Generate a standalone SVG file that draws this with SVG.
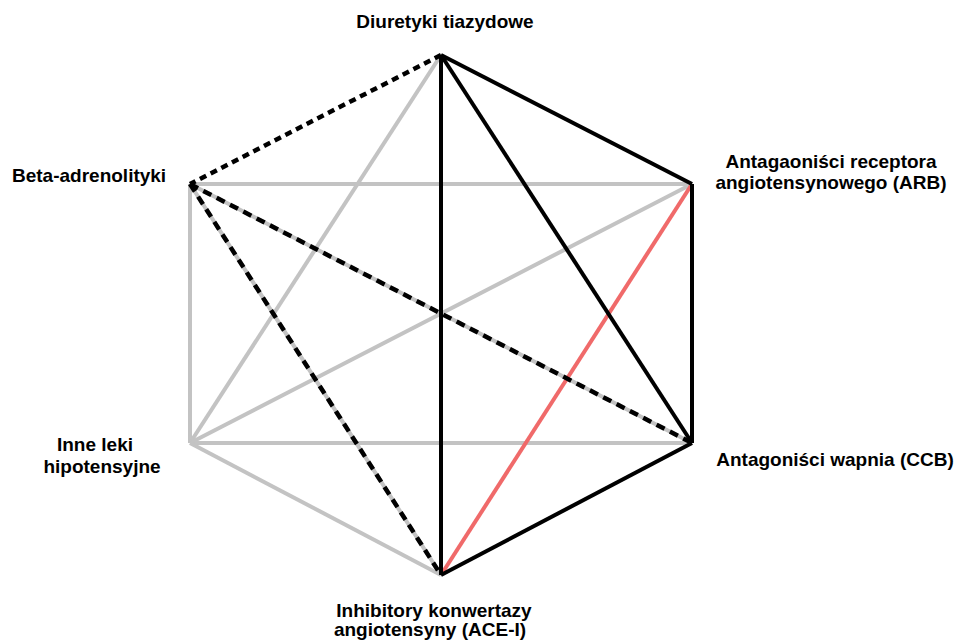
<svg xmlns="http://www.w3.org/2000/svg" width="958" height="641" viewBox="0 0 958 641">
<style>
text{font-family:"Liberation Sans",Arial,sans-serif;font-weight:bold;font-size:19px;fill:#000}
.k{stroke:#000;stroke-width:4;fill:none}
.g{stroke:#c3c3c3;stroke-width:4;fill:none}
.r{stroke:#f06a6a;stroke-width:4;fill:none}
.d{stroke:#000;stroke-width:4.5;fill:none;stroke-dasharray:9 6}
.d2{stroke:#000;stroke-width:4.5;fill:none;stroke-dasharray:7 5}
</style>
<rect width="958" height="641" fill="#fff"/>
<g id="connectors" stroke-linecap="butt">
<line class="g" x1="190" y1="184" x2="692" y2="184"/>
<line class="g" x1="190" y1="184" x2="190" y2="443"/>
<line class="g" x1="441" y1="55" x2="190" y2="443"/>
<line class="g" x1="190" y1="443" x2="692" y2="184"/>
<line class="g" x1="190" y1="443" x2="692" y2="443"/>
<line class="g" x1="190" y1="443" x2="441" y2="575"/>
<line class="g" x1="190" y1="184" x2="692" y2="443"/>
<line class="g" x1="190" y1="184" x2="441" y2="575"/>
<line class="r" x1="692" y1="184" x2="441" y2="575"/>
<line class="k" x1="441" y1="55" x2="692" y2="184"/>
<line class="k" x1="441" y1="55" x2="692" y2="443"/>
<line class="k" x1="441" y1="55" x2="441" y2="575"/>
<line class="k" x1="692" y1="184" x2="692" y2="443"/>
<line class="k" x1="692" y1="443" x2="441" y2="575"/>
<line class="d2" x1="441" y1="55" x2="190" y2="184"/>
<line class="d" x1="190" y1="184" x2="692" y2="443"/>
<line class="d" x1="190" y1="184" x2="441" y2="575"/>
</g>
<g id="n-diuretyki"><text x="445" y="28" text-anchor="middle">Diuretyki tiazydowe</text></g>
<g id="n-arb"><text x="831" y="168" text-anchor="middle">Antagaoniści receptora</text><text x="831" y="189" text-anchor="middle">angiotensynowego (ARB)</text></g>
<g id="n-ccb"><text x="835" y="466" text-anchor="middle">Antagoniści wapnia (CCB)</text></g>
<g id="n-ace"><text x="434" y="617" text-anchor="middle">Inhibitory konwertazy</text><text x="430" y="636" text-anchor="middle">angiotensyny (ACE-I)</text></g>
<g id="n-inne"><text x="95" y="451" text-anchor="middle">Inne leki</text><text x="102" y="473" text-anchor="middle">hipotensyjne</text></g>
<g id="n-beta"><text x="12" y="182">Beta-adrenolityki</text></g>
</svg>
